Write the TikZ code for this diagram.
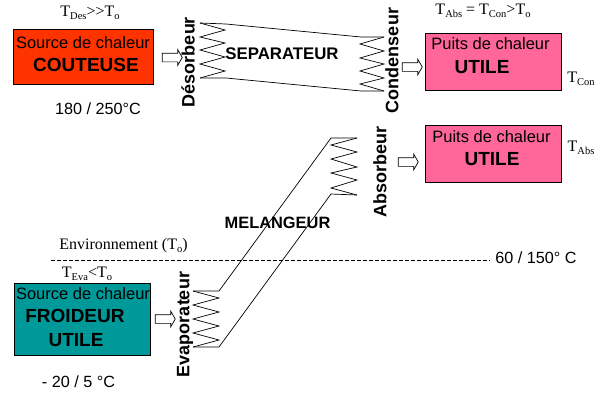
\documentclass[tikz,border=0pt]{standalone}
\usepackage{fontspec}
\setmainfont{Liberation Serif}
\setsansfont{Liberation Sans}
\usetikzlibrary{positioning,shapes.arrows}
\definecolor{couteuse}{HTML}{FF3300}
\definecolor{puits}{HTML}{FF6699}
\definecolor{froideur}{HTML}{009999}
\newcommand{\tsub}[1]{\raisebox{-2.5pt}{\fontsize{10.5}{12}\selectfont #1}}

\begin{document}
\begin{tikzpicture}[
x=1pt, y=-1pt,
box/.style={rectangle, draw=black, line width=1.3pt, anchor=north west, inner sep=0pt},
head/.style={inner sep=0pt, font=\sffamily\fontsize{16.5}{18}\selectfont},
big/.style={inner sep=0pt, font=\sffamily\bfseries\fontsize{19}{21}\selectfont},
coil/.style={inner sep=0pt, rotate=90, font=\sffamily\bfseries\fontsize{18}{20}\selectfont},
temp/.style={inner sep=0pt, font=\fontsize{16}{18}\selectfont},
value/.style={inner sep=0pt, font=\sffamily\fontsize{16.2}{18}\selectfont},
heat/.style={single arrow, draw=black, fill=white, line width=0.7pt, inner xsep=0pt, inner ysep=4pt,
  minimum width=15pt, minimum height=20pt, single arrow head extend=3.5pt, single arrow tip angle=120},
pipe/.style={black, line width=0.7pt},
env/.style={black, line width=0.6pt, dash pattern=on 4pt off 2pt}]

\useasboundingbox (0,0) rectangle (601,394);

% boxes
\node[box, fill=couteuse, minimum width=140pt, minimum height=55pt] (des) at (13,29) {};
\node[box, fill=puits, minimum width=136pt, minimum height=57pt] (con) at (425,33) {};
\node[box, fill=puits, minimum width=136pt, minimum height=57pt] (abs) at (425,125) {};
\node[box, fill=froideur, minimum width=136pt, minimum height=72pt] (eva) at (14,283) {};

% text in boxes
\node[head] (srcdes) at (83,43) {Source de chaleur};
\node[big] (txtdes) at (86,65) {COUTEUSE};
\node[head] (srccon) at (490.5,44) {Puits de chaleur};
\node[big] (txtcon) at (482,67.5) {UTILE};
\node[head] (srcabs) at (491.5,137) {Puits de chaleur};
\node[big] (txtabs) at (492,159) {UTILE};
\node[head] (srceva) at (83,294) {Source de chaleur};
\node[big] (froid) at (75,316) {FROIDEUR};
\node[big] (txteva) at (76,340) {UTILE};

% temperatures
\node[temp] (tdes) at (90,13) {T\tsub{Des}{>}{>}T\tsub{o}};
\node[temp] (tabscon) at (483,11) {T\tsub{Abs} = T\tsub{Con}>T\tsub{o}};
\node[temp] (tcon) at (581,79) {T\tsub{Con}};
\node[temp] (tabs) at (581,148) {T\tsub{Abs}};
\node[temp] (teva) at (87,274) {T\tsub{Eva}<T\tsub{o}};
\node[temp] (envir) at (123.5,246) {Environnement (T\tsub{o})};
\node[value] (vdes) at (98,109) {180 / 250°C};
\node[value] (veva) at (78.5,382) {- 20 / 5 °C};
\node[value] (vmid) at (536,258) {60 / 150° C};

% coil names and mixer names
\node[coil] (ldes) at (188,62) {Désorbeur};
\node[coil] (lcon) at (392,60.5) {Condenseur};
\node[coil] (labs) at (380,171.5) {Absorbeur};
\node[coil] (leva) at (185,324.5) {Evaporateur};
\node[big, font=\sffamily\bfseries\fontsize{16.8}{18}\selectfont] (sep) at (282,54) {SEPARATEUR};
\node[big, font=\sffamily\bfseries\fontsize{16.4}{18}\selectfont] (mel) at (277.5,223) {MELANGEUR};

% heat arrows
\node[heat] (adesarrow) at (171,57.5) {};
\node[heat] (aconarrow) at (411,67) {};
\node[heat] (aabsarrow) at (407,162) {};
\node[heat] (aevaarrow) at (164,319) {};

% ends of the pipes
\coordinate (d1) at (200,23);
\coordinate (d2) at (200,78);
\coordinate (c1) at (384,37);
\coordinate (c2) at (384,91);
\coordinate (a1) at (357,138);
\coordinate (a2) at (357,195);
\coordinate (e1) at (193,291);
\coordinate (e2) at (193,347);

\draw[env] (51,260.5) -- (490,260.5);

\draw[pipe] (d1) -- (226,24) -- (361,37) -- (c1);
\draw[pipe] (d2) -- (226,78) -- (361,91) -- (c2);
\draw[pipe] (e1) -- (219,291) -- (331,138) -- (a1);
\draw[pipe] (e2) -- (219,347) -- (331,194) -- (a2);

% zigzags
\draw[pipe] (d1) -- ++(25,7) -- ++(-25,7) -- ++(25,6) -- ++(-25,7) -- ++(25,7) -- ++(-25,7) -- ++(25,7) -- (d2);
\draw[pipe] (c1) -- ++(-24,7) -- ++(24,7) -- ++(-24,7) -- ++(24,6) -- ++(-24,7) -- ++(24,7) -- ++(-24,6) -- (c2);
\draw[pipe] (a1) -- ++(-26,7) -- ++(26,7) -- ++(-26,7) -- ++(26,8) -- ++(-26,6) -- ++(26,7) -- ++(-26,8) -- (a2);
\draw[pipe] (e1) -- ++(26,7) -- ++(-26,7) -- ++(26,7) -- ++(-26,7) -- ++(26,7) -- ++(-26,7) -- ++(26,7) -- (e2);

\end{tikzpicture}
\end{document}
